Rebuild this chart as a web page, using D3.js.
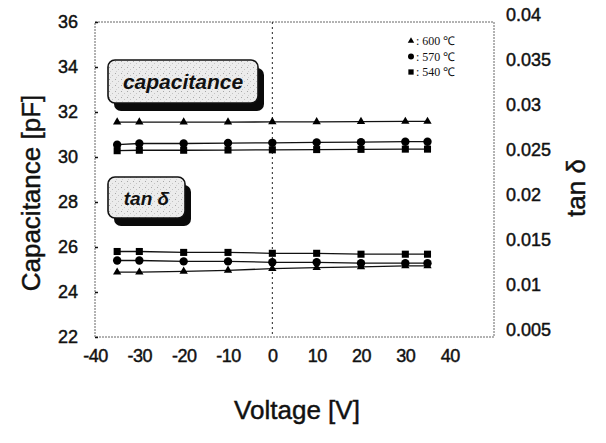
<!DOCTYPE html>
<html>
<head>
<meta charset="utf-8">
<script src="https://cdn.jsdelivr.net/npm/d3@7"></script>
<style>
  html, body { margin: 0; padding: 0; background: #fff; }
  svg { display: block; font-family: "Liberation Sans", Arial, sans-serif; }
</style>
</head>
<body>
<svg id="chart" width="606" height="443"></svg>
<script>
// Bias voltage sweep (V)
const voltages = [-35, -30, -20, -10, 0, 10, 20, 30, 35];

// Sintering temperatures
const temps = ["600 ℃", "570 ℃", "540 ℃"];
const markers = ["triangle", "circle", "square"];

// Capacitance (pF) per temperature
const cap600 = [31.55, 31.55, 31.55, 31.55, 31.56, 31.56, 31.57, 31.58, 31.58];
const cap570 = [30.55, 30.6, 30.6, 30.62, 30.63, 30.65, 30.66, 30.68, 30.68];
const cap540 = [30.28, 30.3, 30.3, 30.31, 30.32, 30.33, 30.34, 30.35, 30.35];

// Dielectric loss tan δ per temperature
const tan600 = [0.0122, 0.0122, 0.0123, 0.0124, 0.0126, 0.0127, 0.0128, 0.0129, 0.0129];
const tan570 = [0.0135, 0.0135, 0.0134, 0.0134, 0.0133, 0.0133, 0.0132, 0.0132, 0.0132];
const tan540 = [0.0145, 0.0145, 0.0144, 0.0144, 0.0143, 0.0143, 0.0142, 0.0142, 0.0142];

// Axis ticks
const xTicks = [-40, -30, -20, -10, 0, 10, 20, 30, 40];
const capTicks = [22, 24, 26, 28, 30, 32, 34, 36];
const tanTicks = [0.005, 0.01, 0.015, 0.02, 0.025, 0.03, 0.035, 0.04];

const svg = d3.select("#chart");
const plot = { left: 95, right: 494, top: 22, bottom: 337 };

const x = d3.scaleLinear().domain([-40, 50]).range([plot.left, plot.right]);
const yCap = d3.scaleLinear().domain([22, 36]).range([plot.bottom, plot.top]);
const yTan = d3.scaleLinear().domain([0.005, 0.04]).range([plot.bottom, plot.top]);

// Light speckled fill for the callout boxes
const defs = svg.append("defs");
const pat = defs.append("pattern").attr("id", "speckle")
  .attr("width", 6).attr("height", 6).attr("patternUnits", "userSpaceOnUse");
pat.append("rect").attr("width", 6).attr("height", 6).attr("fill", "#ececec");
pat.append("rect").attr("x", 1).attr("y", 1).attr("width", 1).attr("height", 1).attr("fill", "#a8a8a8");
pat.append("rect").attr("x", 4).attr("y", 3).attr("width", 1).attr("height", 1).attr("fill", "#c4c4c4");
pat.append("rect").attr("x", 2).attr("y", 5).attr("width", 1).attr("height", 1).attr("fill", "#d0d0d0");

// Plot frame (thin dotted)
svg.append("rect")
  .attr("x", plot.left).attr("y", plot.top)
  .attr("width", plot.right - plot.left).attr("height", plot.bottom - plot.top)
  .attr("fill", "none").attr("stroke", "#555")
  .attr("stroke-width", 0.9).attr("stroke-dasharray", "2,1");

// Zero-voltage reference line
svg.append("line")
  .attr("x1", x(0)).attr("x2", x(0))
  .attr("y1", plot.top).attr("y2", plot.bottom)
  .attr("stroke", "#222").attr("stroke-width", 1)
  .attr("stroke-dasharray", "2,3");

const heavy = sel => sel.attr("fill", "#111").attr("stroke", "#111").attr("stroke-width", 0.45);

// Left axis: capacitance
const axL = svg.append("g").attr("transform", `translate(${plot.left},0)`)
  .call(d3.axisLeft(yCap).tickValues(capTicks).tickSize(-3).tickPadding(17).tickFormat(d => String(d)));
axL.select(".domain").remove();
axL.selectAll("line").attr("stroke", "#111").attr("stroke-width", 1.5);
axL.selectAll("text").attr("font-size", 18).call(heavy);

// Right axis: tan δ
const axR = svg.append("g").attr("transform", `translate(${plot.right},0)`)
  .call(d3.axisRight(yTan).tickValues(tanTicks).tickSize(0).tickPadding(12).tickFormat(d => String(+d.toFixed(3))));
axR.select(".domain").remove();
axR.selectAll("text").attr("font-size", 18).attr("dy", "-0.1em").call(heavy);

// Bottom axis: voltage
const axB = svg.append("g").attr("transform", `translate(0,${plot.bottom})`)
  .call(d3.axisBottom(x).tickValues(xTicks).tickSize(0).tickPadding(12).tickFormat(d => String(d)));
axB.select(".domain").remove();
axB.selectAll("text").attr("font-size", 18).attr("letter-spacing", "-0.5").call(heavy);

// Axis titles
svg.append("text")
  .attr("transform", "translate(40,193) rotate(-90)")
  .attr("text-anchor", "middle").attr("font-size", 26)
  .text("Capacitance [pF]").call(heavy);
svg.append("text")
  .attr("transform", "translate(585,188) rotate(-90)")
  .attr("text-anchor", "middle").attr("font-size", 26)
  .text("tan δ").call(heavy);
svg.append("text")
  .attr("x", 297).attr("y", 419)
  .attr("text-anchor", "middle").attr("font-size", 26)
  .text("Voltage [V]").call(heavy);

// Series drawing
const symbolType = { triangle: d3.symbolTriangle, circle: d3.symbolCircle, square: d3.symbolSquare };
const symbolSize = { triangle: 30, circle: 55, square: 50 };

function drawSeries(vals, yScale, shape) {
  const pts = voltages.map((v, i) => [x(v), yScale(vals[i])]);
  svg.append("path")
    .attr("d", d3.line()(pts))
    .attr("fill", "none").attr("stroke", "#111").attr("stroke-width", 1.3);
  svg.append("g").selectAll("path").data(pts).join("path")
    .attr("transform", d => `translate(${d[0]},${d[1]})`)
    .attr("d", d3.symbol().type(symbolType[shape]).size(symbolSize[shape]))
    .attr("fill", "#000");
}

[cap600, cap570, cap540].forEach((s, i) => drawSeries(s, yCap, markers[i]));
[tan600, tan570, tan540].forEach((s, i) => drawSeries(s, yTan, markers[i]));

// Legend
const legend = svg.append("g").attr("transform", "translate(411,41)");
temps.forEach((t, i) => {
  const g = legend.append("g").attr("transform", `translate(0,${i * 15.5})`);
  g.append("path")
    .attr("d", d3.symbol().type(symbolType[markers[i]]).size(markers[i] === "triangle" ? 18 : 28))
    .attr("fill", "#000");
  g.append("text").attr("x", 5).attr("y", 4)
    .attr("font-size", 12).attr("font-family", "'Liberation Serif', serif").attr("fill", "#111")
    .text(": " + t);
});

// Callout labels with drop shadow
function callout(bx, by, bw, bh, label, size) {
  svg.append("rect")
    .attr("x", bx + 6).attr("y", by + 8).attr("width", bw).attr("height", bh)
    .attr("rx", 7).attr("fill", "#0a0a0a");
  svg.append("rect")
    .attr("x", bx).attr("y", by).attr("width", bw).attr("height", bh)
    .attr("rx", 7).attr("fill", "url(#speckle)").attr("stroke", "#111").attr("stroke-width", 1.6);
  svg.append("text")
    .attr("x", bx + bw / 2).attr("y", by + bh / 2 + 7)
    .attr("text-anchor", "middle").attr("font-size", size)
    .attr("font-weight", "bold").attr("font-style", "italic").attr("fill", "#111")
    .text(label);
}
callout(108, 60, 150, 43, "capacitance", 21);
callout(108, 177, 77, 41, "tan δ", 19);
</script>
</body>
</html>
